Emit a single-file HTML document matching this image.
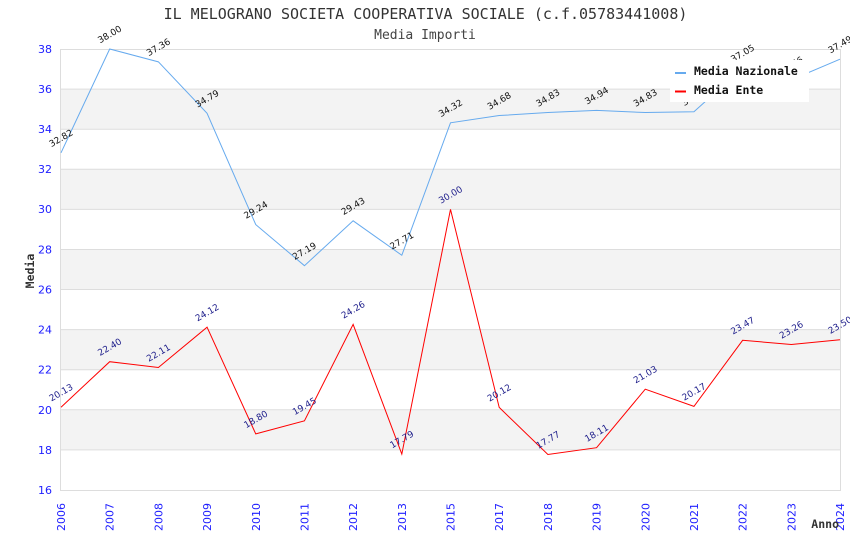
<!DOCTYPE html>
<html>
<head>
<meta charset="utf-8">
<style>
  html, body { margin: 0; padding: 0; background: #ffffff; }
  body { width: 850px; height: 550px; overflow: hidden; }
  svg { display: block; }
  .dl { font-family: "DejaVu Sans", "Liberation Sans", sans-serif; font-size: 9px; }
  .tk { font-family: "DejaVu Sans", "Liberation Sans", sans-serif; font-size: 11px; fill: #2020ff; }
  .mono { font-family: "DejaVu Sans Mono", "Liberation Mono", monospace; }
</style>
</head>
<body>
<svg width="850" height="550" viewBox="0 0 850 550" xmlns="http://www.w3.org/2000/svg">
  <!-- title -->
  <text class="mono" x="425.5" y="19" text-anchor="middle" font-size="15" fill="#333">IL MELOGRANO SOCIETA COOPERATIVA SOCIALE (c.f.05783441008)</text>
  <text class="mono" x="425" y="39" text-anchor="middle" font-size="13" fill="#444">Media Importi</text>

  <!-- bands -->
  <g fill="#f3f3f3">
    <rect x="61" y="89.09" width="779" height="40.09"/>
    <rect x="61" y="169.27" width="779" height="40.09"/>
    <rect x="61" y="249.45" width="779" height="40.09"/>
    <rect x="61" y="329.63" width="779" height="40.09"/>
    <rect x="61" y="409.81" width="779" height="40.09"/>
  </g>
  <!-- gridlines -->
  <g stroke="#dddddd" stroke-width="1">
    <line x1="61" y1="49.5" x2="840" y2="49.5"/>
    <line x1="61" y1="89.1" x2="840" y2="89.1"/>
    <line x1="61" y1="129.2" x2="840" y2="129.2"/>
    <line x1="61" y1="169.3" x2="840" y2="169.3"/>
    <line x1="61" y1="209.4" x2="840" y2="209.4"/>
    <line x1="61" y1="249.5" x2="840" y2="249.5"/>
    <line x1="61" y1="289.5" x2="840" y2="289.5"/>
    <line x1="61" y1="329.6" x2="840" y2="329.6"/>
    <line x1="61" y1="369.7" x2="840" y2="369.7"/>
    <line x1="61" y1="409.8" x2="840" y2="409.8"/>
    <line x1="61" y1="449.9" x2="840" y2="449.9"/>
    <line x1="61" y1="490.5" x2="840" y2="490.5"/>
    <line x1="60.5" y1="49" x2="60.5" y2="491"/>
    <line x1="840.5" y1="49" x2="840.5" y2="491"/>
  </g>

  <!-- y tick labels -->
  <g class="tk" text-anchor="end">
    <text x="52" y="53">38</text>
    <text x="52" y="93">36</text>
    <text x="52" y="133">34</text>
    <text x="52" y="173">32</text>
    <text x="52" y="213">30</text>
    <text x="52" y="253.5">28</text>
    <text x="52" y="293.5">26</text>
    <text x="52" y="333.5">24</text>
    <text x="52" y="373.5">22</text>
    <text x="52" y="414">20</text>
    <text x="52" y="454">18</text>
    <text x="52" y="494">16</text>
  </g>

  <!-- x tick labels -->
  <g class="tk" text-anchor="end">
    <text transform="translate(65,503) rotate(-90)">2006</text>
    <text transform="translate(113.7,503) rotate(-90)">2007</text>
    <text transform="translate(162.4,503) rotate(-90)">2008</text>
    <text transform="translate(211.1,503) rotate(-90)">2009</text>
    <text transform="translate(259.8,503) rotate(-90)">2010</text>
    <text transform="translate(308.4,503) rotate(-90)">2011</text>
    <text transform="translate(357.1,503) rotate(-90)">2012</text>
    <text transform="translate(405.8,503) rotate(-90)">2013</text>
    <text transform="translate(454.5,503) rotate(-90)">2015</text>
    <text transform="translate(503.2,503) rotate(-90)">2017</text>
    <text transform="translate(551.9,503) rotate(-90)">2018</text>
    <text transform="translate(600.6,503) rotate(-90)">2019</text>
    <text transform="translate(649.3,503) rotate(-90)">2020</text>
    <text transform="translate(697.9,503) rotate(-90)">2021</text>
    <text transform="translate(746.6,503) rotate(-90)">2022</text>
    <text transform="translate(795.3,503) rotate(-90)">2023</text>
    <text transform="translate(844,503) rotate(-90)">2024</text>
  </g>

  <!-- axis titles -->
  <text class="mono" transform="translate(34,271) rotate(-90)" text-anchor="middle" font-size="11.5" font-weight="bold" fill="#333">Media</text>
  <text class="mono" x="839" y="528" text-anchor="end" font-size="11.5" font-weight="bold" fill="#333">Anno</text>

  <!-- series lines -->
  <polyline fill="none" stroke="#66aaee" stroke-width="1"
    points="61,152.83 109.69,49 158.38,61.83 207.06,113.34 255.75,224.59 304.44,265.69 353.13,220.79 401.81,255.26 450.5,122.77 499.19,115.55 547.88,112.54 596.56,110.34 645.25,112.54 693.94,111.74 742.63,68.04 791.31,79.87 840,59.22"/>
  <polyline fill="none" stroke="#ff0000" stroke-width="1"
    points="61,407.2 109.69,361.7 158.38,367.5 207.06,327.2 255.75,433.9 304.44,420.8 353.13,324.4 401.81,454.1 450.5,209.36 499.19,407.4 547.88,454.5 596.56,447.7 645.25,389.2 693.94,406.4 742.63,340.3 791.31,344.5 840,339.7"/>

  <!-- Nazionale data labels -->
  <g class="dl" fill="#111" text-anchor="middle">
    <text transform="translate(62.5,140.8) rotate(-30)">32.82</text>
    <text transform="translate(111.2,37) rotate(-30)">38.00</text>
    <text transform="translate(159.9,49.8) rotate(-30)">37.36</text>
    <text transform="translate(208.6,101.3) rotate(-30)">34.79</text>
    <text transform="translate(257.3,212.6) rotate(-30)">29.24</text>
    <text transform="translate(305.9,253.7) rotate(-30)">27.19</text>
    <text transform="translate(354.6,208.8) rotate(-30)">29.43</text>
    <text transform="translate(403.3,243.3) rotate(-30)">27.71</text>
    <text transform="translate(452,110.8) rotate(-30)">34.32</text>
    <text transform="translate(500.7,103.5) rotate(-30)">34.68</text>
    <text transform="translate(549.4,100.5) rotate(-30)">34.83</text>
    <text transform="translate(598.1,98.3) rotate(-30)">34.94</text>
    <text transform="translate(646.8,100.5) rotate(-30)">34.83</text>
    <text transform="translate(695.4,99.7) rotate(-30)">34.87</text>
    <text transform="translate(744.1,56) rotate(-30)">37.05</text>
    <text transform="translate(792.8,67.9) rotate(-30)">36.46</text>
    <text transform="translate(841.5,47.2) rotate(-30)">37.49</text>
  </g>

  <!-- Ente data labels -->
  <g class="dl" fill="#1c1c8a" text-anchor="middle">
    <text transform="translate(62.5,395.2) rotate(-30)">20.13</text>
    <text transform="translate(111.2,349.7) rotate(-30)">22.40</text>
    <text transform="translate(159.9,355.5) rotate(-30)">22.11</text>
    <text transform="translate(208.6,315.2) rotate(-30)">24.12</text>
    <text transform="translate(257.3,421.9) rotate(-30)">18.80</text>
    <text transform="translate(305.9,408.8) rotate(-30)">19.45</text>
    <text transform="translate(354.6,312.4) rotate(-30)">24.26</text>
    <text transform="translate(403.3,442.1) rotate(-30)">17.79</text>
    <text transform="translate(452,197.4) rotate(-30)">30.00</text>
    <text transform="translate(500.7,395.4) rotate(-30)">20.12</text>
    <text transform="translate(549.4,442.5) rotate(-30)">17.77</text>
    <text transform="translate(598.1,435.7) rotate(-30)">18.11</text>
    <text transform="translate(646.8,377.2) rotate(-30)">21.03</text>
    <text transform="translate(695.4,394.4) rotate(-30)">20.17</text>
    <text transform="translate(744.1,328.3) rotate(-30)">23.47</text>
    <text transform="translate(792.8,332.5) rotate(-30)">23.26</text>
    <text transform="translate(841.5,327.7) rotate(-30)">23.50</text>
  </g>

  <!-- legend -->
  <rect x="670" y="60" width="139" height="42" fill="#ffffff"/>
  <line x1="675" y1="73" x2="686" y2="73" stroke="#66aaee" stroke-width="2"/>
  <line x1="675" y1="91.5" x2="686" y2="91.5" stroke="#ff0000" stroke-width="2"/>
  <text class="mono" x="694" y="75" font-size="11.5" font-weight="bold" fill="#111">Media Nazionale</text>
  <text class="mono" x="694" y="94" font-size="11.5" font-weight="bold" fill="#111">Media Ente</text>
</svg>
</body>
</html>
